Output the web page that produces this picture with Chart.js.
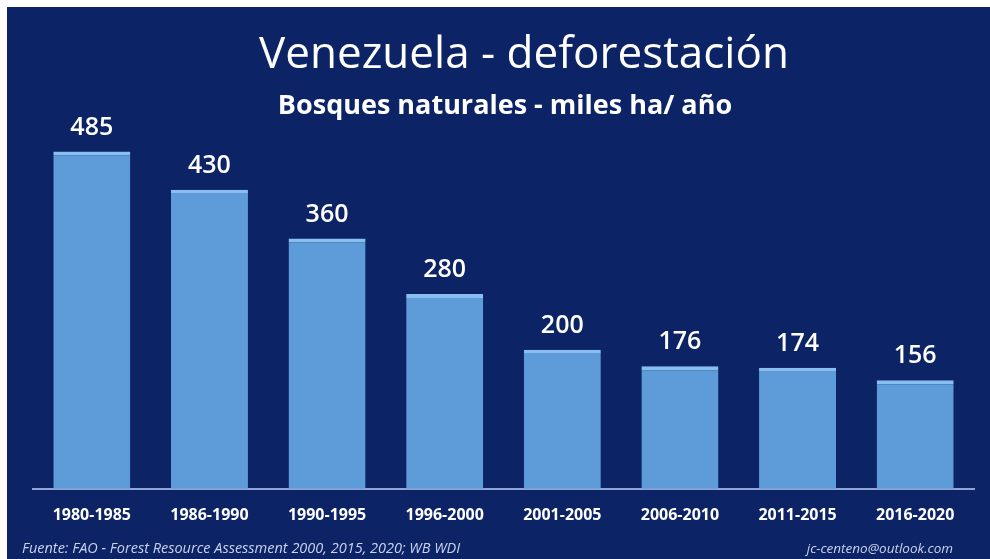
<!DOCTYPE html>
<html lang="es">
<head>
  <meta charset="UTF-8">
  <title>Venezuela - deforestación</title>
  <script src="https://cdn.jsdelivr.net/npm/chart.js"></script>
  <style>
    body {
      margin: 0;
      padding: 0;
      background-color: #ffffff;
    }

    #panel {
      position: absolute;
      left: 7px;
      top: 7px;
      width: 983px;
      height: 552px;
      background-color: #0c2366;
    }
  </style>
</head>
<body>
  <div id="panel">
    <canvas id="deforestChart" width="983" height="552"></canvas>
  </div>

  <script>
    // Data
    const periods = ['1980-1985', '1986-1990', '1990-1995', '1996-2000',
                     '2001-2005', '2006-2010', '2011-2015', '2016-2020'];
    const hectares = [485, 430, 360, 280, 200, 176, 174, 156];

    const titleText = 'Venezuela - deforestación';
    const subtitleText = 'Bosques naturales - miles ha/ año';
    const sourceText = 'Fuente: FAO - Forest Resource Assessment 2000, 2015, 2020; WB WDI';
    const authorText = 'jc-centeno@outlook.com';

    // Draws the headings, the value above each bar and the footer lines
    const textPlugin = {
      id: 'slideText',
      afterDatasetsDraw(chart) {
        const ctx = chart.ctx;
        ctx.save();
        ctx.fillStyle = '#ffffff';
        ctx.textAlign = 'center';
        ctx.textBaseline = 'middle';

        ctx.font = '400 44px "Open Sans"';
        ctx.fillText(titleText, 517, 48);

        ctx.font = '700 27px "Open Sans"';
        ctx.fillText(subtitleText, 498, 99);

        // value labels
        ctx.font = '600 25px "Open Sans"';
        const meta = chart.getDatasetMeta(0);
        meta.data.forEach((bar, i) => {
          ctx.fillText(hectares[i], bar.x, bar.y - 24);
        });

        // footer
        ctx.fillStyle = '#c9d3ee';
        ctx.font = 'italic 14.5px "Open Sans"';
        ctx.textAlign = 'left';
        ctx.fillText(sourceText, 15, 542);
        ctx.font = 'italic 13.5px "Open Sans"';
        ctx.textAlign = 'right';
        ctx.fillText(authorText, 946, 542);
        ctx.restore();
      }
    };

    const ctx = document.getElementById('deforestChart').getContext('2d');
    new Chart(ctx, {
      type: 'bar',
      data: {
        labels: periods,
        datasets: [{
          data: hectares,
          backgroundColor: '#5d9bd9',
          borderColor: '#88bff0',
          borderWidth: { top: 4, left: 0, right: 0, bottom: 0 },
          borderSkipped: 'bottom',
          barPercentage: 0.655,
          categoryPercentage: 1.0
        }]
      },
      options: {
        responsive: false,
        animation: false,
        layout: {
          padding: { top: 134, left: 26, right: 16, bottom: 17 }
        },
        scales: {
          x: {
            grid: { display: false, drawTicks: false },
            border: { display: true, color: '#8fa5d6', width: 2 },
            ticks: {
              color: '#ffffff',
              padding: 17,
              font: { family: 'Open Sans', size: 16, weight: '700' }
            }
          },
          y: {
            display: false,
            min: 0,
            max: 500
          }
        },
        plugins: {
          legend: { display: false },
          tooltip: { enabled: false }
        }
      },
      plugins: [textPlugin]
    });
  </script>
</body>
</html>
